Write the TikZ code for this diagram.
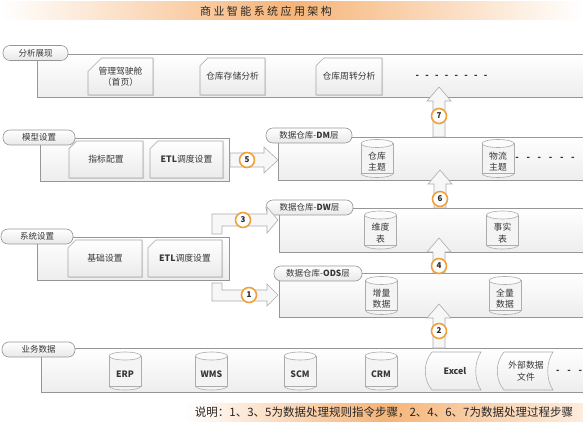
\documentclass[tikz,border=0pt]{standalone}
\usepackage{fontspec}
\setmainfont{Noto Sans CJK SC}
\usetikzlibrary{shapes.misc,shadows}
\definecolor{peach}{RGB}{246,180,120}
\definecolor{ring}{RGB}{240,160,60}
\definecolor{bord}{RGB}{150,150,150}
\definecolor{txt}{RGB}{55,55,55}
\newcommand\dashrow[2]{\foreach \k in {1,...,#1}{\ifnum\k>1\hspace{#2}\fi\textbf{-}}}
\newcommand\mycyl[4]{%
  \filldraw[cylbody] (#2,#3+15) ellipse [x radius=16, y radius=4];
  \fill[cylbody] (#2-16,#3-15) rectangle (#2+16,#3+15);
  \draw[cylline] (#2-16,#3-15) -- (#2-16,#3+15);
  \draw[cylline] (#2+16,#3-15) -- (#2+16,#3+15);
  \filldraw[cyltop] (#2,#3-15) ellipse [x radius=16, y radius=4];
  \node[cyltext] (#1) at (#2,#3+3) {#4};}
\begin{document}
\begin{tikzpicture}[x=1pt,y=-1pt,
  layer/.style={draw=bord, line width=0.6pt, top color=white, bottom color=gray!14,
    drop shadow={opacity=0.2,shadow xshift=1pt,shadow yshift=-1pt},
    anchor=north west, inner sep=0pt},
  pill/.style={draw=bord, line width=0.6pt, rounded corners=7pt, top color=white, bottom color=gray!18,
    minimum height=15pt, inner sep=0pt, font=\fontsize{8.5}{9}\selectfont, text=txt},
  card/.style={chamfered rectangle, chamfered rectangle corners=north west,
    chamfered rectangle xsep=10pt, draw=gray!70, line width=0.6pt, top color=white, bottom color=gray!16,
    minimum height=37pt, inner sep=0pt, align=center, font=\fontsize{8.8}{11.5}\selectfont, text=txt,
    drop shadow={opacity=0.2,shadow xshift=1pt,shadow yshift=-1pt}},
  cylbody/.style={fill=gray!9, draw=gray!65, line width=0.6pt},
  cyltop/.style={fill=gray!3, draw=gray!65, line width=0.6pt},
  cylline/.style={draw=gray!65, line width=0.6pt},
  cyltext/.style={align=center, font=\fontsize{8.8}{11.5}\selectfont, text=txt, inner sep=0pt},
  store/.style={draw=gray!65, line width=0.6pt, top color=white, bottom color=gray!14},
  blockarr/.style={draw=gray!65, line width=0.6pt, fill=gray!6},
  num/.style={circle, draw=ring, line width=1.6pt, fill=white, inner sep=0pt, minimum size=15pt,
    font=\fontsize{8}{8}\selectfont\bfseries, text=black!85},
  dots/.style={font=\fontsize{9}{9}\selectfont, text=black!85, inner sep=0pt}]
\useasboundingbox (0,0) rectangle (583,427);
\clip (0,0) rectangle (583,427);

% title band
\shade[left color=white, right color=white, middle color=peach] (0,2) rectangle (583,20);
\node[text=black!85, font=\fontsize{11}{11}\selectfont] (title) at (266,11)
  {\addfontfeatures{LetterSpace=22}商业智能系统应用架构};

% layers
\node[layer, minimum width=563pt, minimum height=43pt] (LA) at (37,54) {};
\node[layer, minimum width=189pt, minimum height=43pt] (LM) at (40,138) {};
\node[layer, minimum width=322pt, minimum height=43pt] (LDM) at (278,137) {};
\node[layer, minimum width=321pt, minimum height=44pt] (LDW) at (279,208) {};
\node[layer, minimum width=192pt, minimum height=43pt] (LS) at (37,237) {};
\node[layer, minimum width=321pt, minimum height=44pt] (LODS) at (279,273) {};
\node[layer, minimum width=559pt, minimum height=44pt] (LB) at (41,348) {};

% pills
\node[pill, minimum width=65pt] (PA) at (35.5,53) {分析展现};
\node[pill, minimum width=72pt] (PM) at (39,137.5) {模型设置};
\node[pill, minimum width=86pt] (PDM) at (309,135.5) {数据仓库-{\bfseries DM}层};
\node[pill, minimum width=87pt] (PDW) at (309.5,207.5) {数据仓库-{\bfseries DW}层};
\node[pill, minimum width=72pt] (PS) at (37,236.5) {系统设置};
\node[pill, minimum width=88pt] (PODS) at (318,273.5) {数据仓库-{\bfseries ODS}层};
\node[pill, minimum width=73pt] (PB) at (38.5,349.5) {业务数据};

% cards
\node[card, minimum width=65pt] (c1) at (120.5,76.5) {管理驾驶舱\\（首页）};
\node[card, minimum width=65pt] (c2) at (232.5,76.5) {仓库存储分析};
\node[card, minimum width=66pt] (c3) at (349,76.5) {仓库周转分析};
\node[dots] (d1) at (451.5,77) {\dashrow{8}{6.3pt}};
\node[card, minimum width=74pt] (c4) at (106,159.5) {指标配置};
\node[card, minimum width=73pt] (c5) at (186.5,159.5) {{\bfseries ETL}调度设置};
\node[card, minimum width=74pt] (c6) at (105,258.5) {基础设置};
\node[card, minimum width=74pt] (c7) at (185,258.5) {{\bfseries ETL}调度设置};

% cylinders
\mycyl{dm1}{377}{158.5}{仓库\\主题}
\mycyl{dm2}{498}{158.5}{物流\\主题}
\node[dots] (d2) at (545,159) {\dashrow{6}{7.7pt}};
\mycyl{dw1}{380.5}{230}{维度\\表}
\mycyl{dw2}{502.5}{230}{事实\\表}
\mycyl{ods1}{381.5}{295.5}{增量\\数据}
\mycyl{ods2}{505}{295.5}{全量\\数据}
\mycyl{erp}{125}{371}{\bfseries ERP}
\mycyl{wms}{211.5}{371}{\bfseries WMS}
\mycyl{scm}{300}{371}{\bfseries SCM}
\mycyl{crm}{381}{371}{\bfseries CRM}

% stored data shapes
\draw[store] (432,352) -- (481,352) .. controls (474,362) and (474,380) .. (481,390)
  -- (432,390) .. controls (423,380) and (423,362) .. (432,352) -- cycle;
\node[cyltext] (excel) at (455,371) {\bfseries Excel};
\draw[store] (504,352) -- (553,352) .. controls (546,362) and (546,380) .. (553,390)
  -- (504,390) .. controls (495,380) and (495,362) .. (504,352) -- cycle;
\node[cyltext] (ext) at (526,371) {外部数据\\文件};
\node[dots, anchor=west] (d3) at (556,371.5) {\dashrow{3}{7.7pt}};

% block arrows (up)
\draw[blockarr] (433,137) -- (433,101) -- (427,101) -- (439,87) -- (451,101) -- (445,101) -- (445,137) -- cycle;
\draw[blockarr] (434,208) -- (434,184) -- (428,184) -- (440,170) -- (452,184) -- (446,184) -- (446,208) -- cycle;
\draw[blockarr] (433,273) -- (433,252) -- (427,252) -- (439,238) -- (451,252) -- (445,252) -- (445,273) -- cycle;
\draw[blockarr] (433,348) -- (433,318) -- (427,318) -- (439,304) -- (451,318) -- (445,318) -- (445,348) -- cycle;
% arrow 5
\draw[blockarr] (230,153) -- (264,153) -- (264,147) -- (278,160) -- (264,173) -- (264,167) -- (230,167) -- cycle;
% arrow 3 (elbow)
\draw[blockarr] (212,234) -- (212,214) -- (267,214) -- (267,207) -- (278,220) -- (267,233) -- (267,226)
  -- (222,226) -- (222,234) -- cycle;
% arrow 1 (elbow)
\draw[blockarr] (212,283) -- (212,301) -- (267,301) -- (267,306) -- (278,295) -- (267,284) -- (267,290)
  -- (222,290) -- (222,283) -- cycle;

% numbers
\node[num] (n7) at (439,116) {7};
\node[num] (n6) at (440,199) {6};
\node[num] (n4) at (439,266) {4};
\node[num] (n2) at (439,331) {2};
\node[num] (n5) at (247,160) {5};
\node[num] (n3) at (243,220) {3};
\node[num] (n1) at (249,295) {1};

% footer
\shade[left color=white, right color=peach!25, middle color=peach] (185,403) rectangle (583,421);
\node[text=black!85, font=\fontsize{11.5}{11.5}\selectfont, inner sep=0pt] (note) at (384,412)
  {说明：1、3、5为数据处理规则指令步骤，2、4、6、7为数据处理过程步骤};
\end{tikzpicture}
\end{document}
